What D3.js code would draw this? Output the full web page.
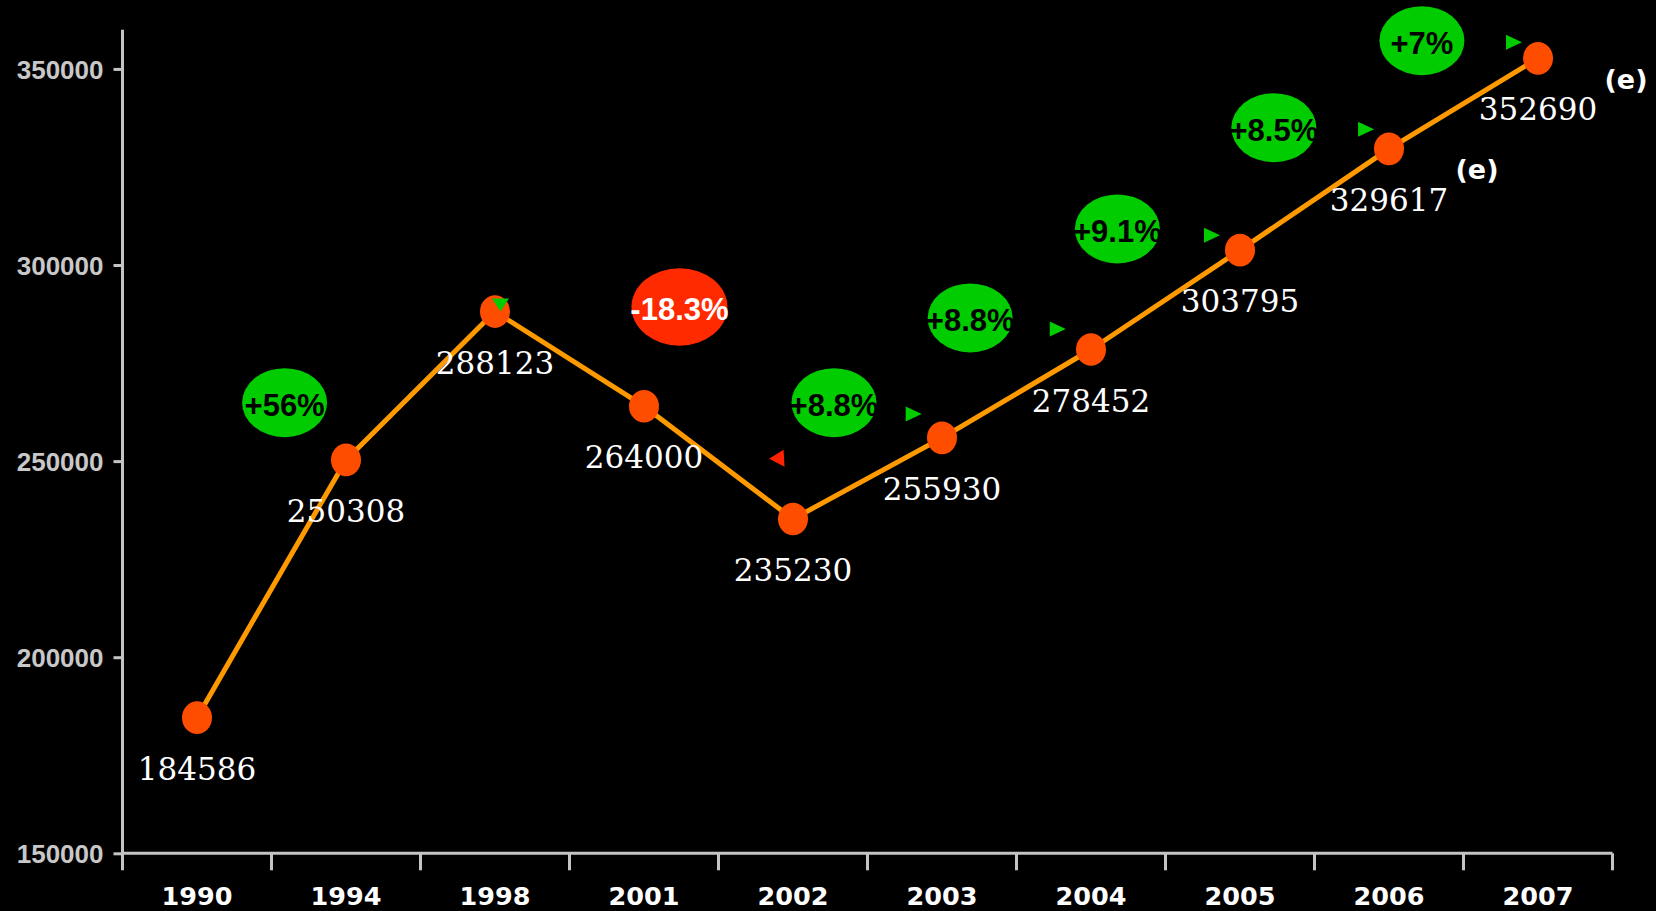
<!DOCTYPE html>
<html>
<head>
<meta charset="utf-8">
<script src="https://cdn.jsdelivr.net/npm/d3@7"></script>
<style>
  html, body { margin: 0; padding: 0; background: #000; }
  svg { display: block; }
</style>
</head>
<body>
<svg id="chart" width="1656" height="911"></svg>
<script>
// ---- data ----
const years = ["1990", "1994", "1998", "2001", "2002", "2003", "2004", "2005", "2006", "2007"];
const values = [184586, 250308, 288123, 264000, 235230, 255930, 278452, 303795, 329617, 352690];
const estimated = [false, false, false, false, false, false, false, false, true, true];
const yTicks = [150000, 200000, 250000, 300000, 350000];

// growth callouts (anchored in data units: category index, value)
const changeLabels = ["+56%", "-18.3%", "+8.8%", "+8.8%", "+9.1%", "+8.5%", "+7%"];
const changeIndex = [0.588, 3.238, 4.275, 5.189, 6.177, 7.227, 8.221];
const changeValue = [264900, 289300, 264900, 286500, 309200, 335000, 357200];
const changeUp = [true, false, true, true, true, true, true];

// trend arrows
const arrowIndex = [2.037, 3.893, 4.810, 5.777, 6.812, 7.846, 8.839];
const arrowValue = [289800, 250700, 262000, 283700, 307600, 334600, 356800];
const arrowDir = ["down", "left", "right", "right", "right", "right", "right"];

// ---- layout ----
const svg = d3.select("#chart");
const plotL = 122.5, plotR = 1612.5, plotT = 29.7, plotB = 853.3;

const x = d3.scaleBand().domain(years).range([plotL, plotR]).padding(0);
const xi = d3.scaleLinear().domain([-0.5, years.length - 0.5]).range([plotL, plotR]);
const y = d3.scaleLinear().domain([150000, 360000]).range([plotB, plotT]);

const axisColor = "#c4c4c4";

// Y axis
const yAxis = svg.append("g").attr("transform", `translate(${plotL},0)`)
  .call(d3.axisLeft(y).tickValues(yTicks).tickSize(9).tickPadding(10).tickFormat(d3.format("d")));
yAxis.select(".domain").remove();
yAxis.selectAll(".tick line").attr("stroke", axisColor).attr("stroke-width", 3);
yAxis.selectAll(".tick text")
  .attr("fill", "#c8c8c8")
  .attr("font-family", "'Liberation Sans', Arial, sans-serif")
  .attr("font-weight", "bold")
  .attr("font-size", 26)
  .attr("dy", "0.36em");
svg.append("line")
  .attr("x1", plotL).attr("x2", plotL)
  .attr("y1", y(360000)).attr("y2", plotB + 17)
  .attr("stroke", axisColor).attr("stroke-width", 3);

// X axis
svg.append("line")
  .attr("x1", plotL).attr("x2", plotR)
  .attr("y1", plotB).attr("y2", plotB)
  .attr("stroke", axisColor).attr("stroke-width", 3);
const boundaries = years.map(d => x(d)).concat([x(years[years.length - 1]) + x.bandwidth()]);
svg.append("g").selectAll("line").data(boundaries.slice(1)).join("line")
  .attr("x1", d => d).attr("x2", d => d)
  .attr("y1", plotB).attr("y2", plotB + 17)
  .attr("stroke", axisColor).attr("stroke-width", 3);
const xAxis = svg.append("g").attr("transform", `translate(0,${plotB})`)
  .call(d3.axisBottom(x).tickSize(0).tickPadding(0));
xAxis.select(".domain").remove();
xAxis.selectAll(".tick text")
  .attr("fill", "#fff")
  .attr("font-family", "'DejaVu Sans', Verdana, sans-serif")
  .attr("font-weight", "bold")
  .attr("font-size", 25.5)
  .attr("dy", 0)
  .attr("y", 51.8);

const cx = (d, i) => x(years[i]) + x.bandwidth() / 2;

// line
const line = d3.line().x((d, i) => cx(d, i)).y(d => y(d));
svg.append("path").datum(values)
  .attr("d", line)
  .attr("fill", "none")
  .attr("stroke", "#ff9900")
  .attr("stroke-width", 5)
  .attr("stroke-linejoin", "round");

// callout ellipses
const callouts = svg.append("g").selectAll("g").data(changeLabels).join("g")
  .attr("transform", (d, i) => `translate(${xi(changeIndex[i])},${y(changeValue[i])})`);
callouts.append("ellipse")
  .attr("rx", (d, i) => changeUp[i] ? 42.5 : 48)
  .attr("ry", (d, i) => changeUp[i] ? 34.5 : 38.7)
  .attr("fill", (d, i) => changeUp[i] ? "#00cc00" : "#ff2a00");
callouts.append("text")
  .text(d => d)
  .attr("text-anchor", "middle")
  .attr("y", 13.5)
  .attr("font-family", "'Liberation Sans', Arial, sans-serif")
  .attr("font-weight", "bold")
  .attr("font-size", 31)
  .attr("fill", (d, i) => changeUp[i] ? "#000" : "#fff");

// points
svg.append("g").selectAll("ellipse").data(values).join("ellipse")
  .attr("cx", cx)
  .attr("cy", d => y(d))
  .attr("rx", 15)
  .attr("ry", 16.3)
  .attr("fill", "#ff4d00");

// arrows
const triPath = {
  down: "M-8.5,-6.5 L8.5,-6.5 L0,6.5 Z",
  left: "M-8,0.5 L6.5,-8.5 L7.5,8.5 Z",
  right: "M-8,-7.5 L-8,7.5 L8,0 Z"
};
svg.append("g").selectAll("path").data(arrowDir).join("path")
  .attr("d", d => triPath[d])
  .attr("transform", (d, i) => `translate(${xi(arrowIndex[i])},${y(arrowValue[i])})`)
  .attr("fill", d => d === "left" ? "#ff2200" : "#00cc00");

// value labels
svg.append("g").selectAll("text").data(values).join("text")
  .attr("x", cx)
  .attr("y", d => y(d) + 62)
  .attr("text-anchor", "middle")
  .attr("font-family", "'DejaVu Serif', serif")
  .attr("font-size", 31)
  .attr("fill", "#fff")
  .text(d => d);

// estimate markers
const estIdx = years.map((d, i) => i).filter(i => estimated[i]);
svg.append("g").selectAll("text").data(estIdx).join("text")
  .attr("x", i => cx(values[i], i) + 88)
  .attr("y", i => y(values[i]) + 30.5)
  .attr("text-anchor", "middle")
  .attr("font-family", "'DejaVu Sans', Verdana, sans-serif")
  .attr("font-weight", "bold")
  .attr("font-size", 27)
  .attr("fill", "#fff")
  .text("(e)");
</script>
</body>
</html>
